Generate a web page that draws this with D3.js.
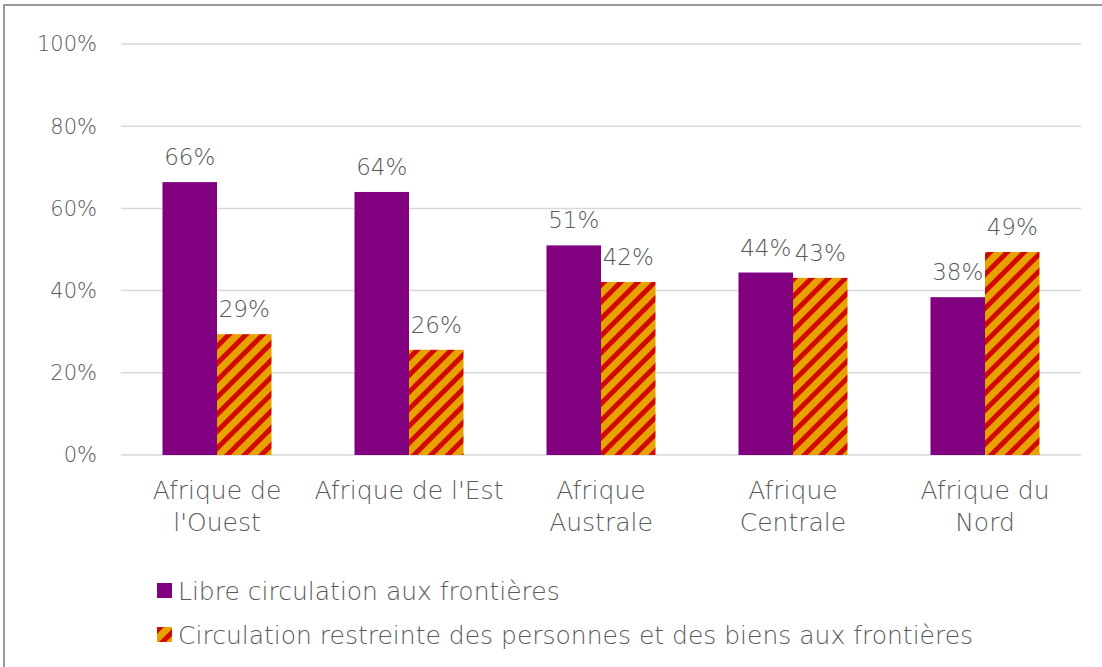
<!DOCTYPE html>
<html>
<head>
<meta charset="utf-8">
<script src="https://cdn.jsdelivr.net/npm/d3@7"></script>
<style>
  body { margin: 0; background: #fff; }
  text { font-family: "DejaVu Sans", sans-serif; font-weight: 200; fill: #595959; }
</style>
</head>
<body>
<div id="chart"></div>
<script>
var categories = [["Afrique de", "l'Ouest"], ["Afrique de l'Est"], ["Afrique", "Australe"], ["Afrique", "Centrale"], ["Afrique du", "Nord"]];
var libre = [66.4, 64.0, 51.0, 44.4, 38.4];
var restreinte = [29.4, 25.6, 42.1, 43.1, 49.4];
var seriesNames = ["Libre circulation aux frontières", "Circulation restreinte des personnes et des biens aux frontières"];
var yTicks = [0, 20, 40, 60, 80, 100];

var width = 1102, height = 667;
var margin = { top: 44, left: 121, right: 21, bottom: 212 };

var svg = d3.select("#chart").append("svg")
    .attr("width", width)
    .attr("height", height);

// hatch
var defs = svg.append("defs");
var pat = defs.append("pattern")
    .attr("id", "hatch")
    .attr("patternUnits", "userSpaceOnUse")
    .attr("width", 12).attr("height", 12)
    .attr("patternTransform", "rotate(45)");
pat.append("rect").attr("width", 12).attr("height", 12).attr("fill", "#e8a200");
pat.append("rect").attr("width", 5).attr("height", 12).attr("fill", "#d10a00");

// outer border
svg.append("path")
    .attr("d", "M4," + height + "V5H" + width)
    .attr("fill", "none")
    .attr("stroke", "#9a9a9a")
    .attr("stroke-width", 2);

var x = d3.scaleBand()
    .domain(d3.range(categories.length))
    .range([margin.left, width - margin.right]);

var y = d3.scaleLinear()
    .domain([0, 100])
    .range([height - margin.bottom, margin.top]);

var barW = 54.5;

// grid
svg.append("g").selectAll("line")
    .data(yTicks)
    .enter().append("line")
    .attr("x1", margin.left).attr("x2", width - margin.right)
    .attr("y1", function (d) { return y(d); })
    .attr("y2", function (d) { return y(d); })
    .attr("stroke", "#d9d9d9")
    .attr("stroke-width", 1.5);

svg.append("g").selectAll("text")
    .data(yTicks)
    .enter().append("text")
    .attr("x", 97)
    .attr("y", function (d) { return y(d); })
    .attr("dy", "0.35em")
    .attr("text-anchor", "end")
    .style("font-size", "21px")
    .text(function (d) { return d + "%"; });

var groups = svg.append("g").selectAll("g")
    .data(categories)
    .enter().append("g");

groups.append("rect")
    .attr("x", function (d, i) { return x(i) + x.bandwidth() / 2 - barW; })
    .attr("y", function (d, i) { return y(libre[i]); })
    .attr("width", barW)
    .attr("height", function (d, i) { return y(0) - y(libre[i]); })
    .attr("fill", "#800080");

groups.append("rect")
    .attr("x", function (d, i) { return x(i) + x.bandwidth() / 2; })
    .attr("y", function (d, i) { return y(restreinte[i]); })
    .attr("width", barW)
    .attr("height", function (d, i) { return y(0) - y(restreinte[i]); })
    .attr("fill", "url(#hatch)");

groups.append("text")
    .attr("x", function (d, i) { return x(i) + x.bandwidth() / 2 - barW / 2; })
    .attr("y", function (d, i) { return y(libre[i]) - 17; })
    .attr("text-anchor", "middle")
    .style("font-size", "23px")
    .text(function (d, i) { return Math.round(libre[i]) + "%"; });

groups.append("text")
    .attr("x", function (d, i) { return x(i) + x.bandwidth() / 2 + barW / 2; })
    .attr("y", function (d, i) { return y(restreinte[i]) - 17; })
    .attr("text-anchor", "middle")
    .style("font-size", "23px")
    .text(function (d, i) { return Math.round(restreinte[i]) + "%"; });

// category labels
groups.each(function (d, i) {
    var t = d3.select(this).append("text")
        .attr("text-anchor", "middle")
        .style("font-size", "25px");
    d.forEach(function (line, k) {
        t.append("tspan")
            .attr("x", x(i) + x.bandwidth() / 2)
            .attr("y", 499 + k * 32)
            .text(line);
    });
});

// legend
var legend = svg.append("g").selectAll("g")
    .data(seriesNames)
    .enter().append("g")
    .attr("transform", function (d, i) { return "translate(157," + (583 + i * 44) + ")"; });

legend.append("rect")
    .attr("width", 15).attr("height", 15)
    .attr("fill", function (d, i) { return i === 0 ? "#800080" : "url(#hatch)"; });

legend.append("text")
    .attr("x", 21)
    .attr("y", 8)
    .attr("dy", "0.35em")
    .style("font-size", "25px")
    .text(function (d) { return d; });
</script>
</body>
</html>
